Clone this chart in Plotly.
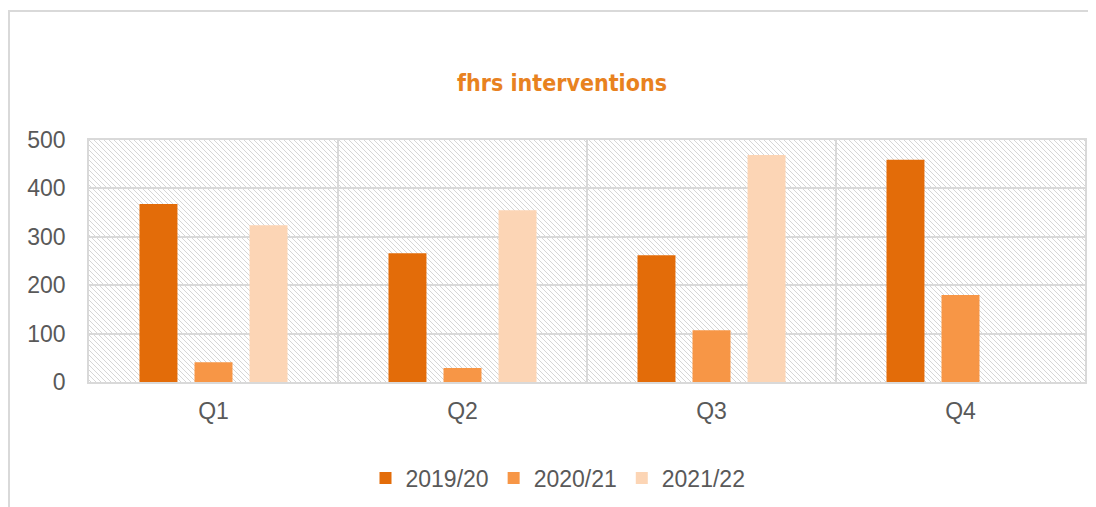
import base64
import plotly.graph_objects as go

quarters = ["Q1", "Q2", "Q3", "Q4"]
series_names = ["2019/20", "2020/21", "2021/22"]
v_2019 = [368, 266, 262, 459]
v_2020 = [41, 29, 107, 180]
v_2021 = [324, 355, 469, None]
colors = ["#E36C09", "#F79646", "#FCD5B5"]

OFF = 8  # browser body margin
W, H = 1096 - OFF, 507 - OFF
L, R, T, B = 89 - OFF, 11, 140 - OFF, 125
pw, ph = W - L - R, H - T - B

svg = f'''<svg xmlns="http://www.w3.org/2000/svg" width="{pw}" height="{ph}">
<defs><pattern id="p" width="5" height="5" patternUnits="userSpaceOnUse">
<path d="M-1,-1 L6,6 M-1,4 L1,6 M4,-1 L6,1" stroke="#D6D6D6" stroke-width="1"/>
</pattern></defs>
<rect width="{pw}" height="{ph}" fill="url(#p)"/></svg>'''
src = "data:image/svg+xml;base64," + base64.b64encode(svg.encode()).decode()

fig = go.Figure()
for name, vals, c in zip(series_names, [v_2019, v_2020, v_2021], colors):
    fig.add_trace(go.Bar(x=quarters, y=vals, name=name, marker_color=c, marker_line_width=0))

fig.update_layout(
    width=W, height=H,
    margin=dict(l=L, r=R, t=T, b=B, autoexpand=False),
    paper_bgcolor="white", plot_bgcolor="white",
    barmode="group", bargap=0.337, bargroupgap=0.31,
    font=dict(family="Liberation Sans, Arial", color="#595959", size=23),
    title=dict(text="<b>fhrs interventions</b>", x=(562 - OFF) / W, xanchor="center",
               y=1 - (83 - OFF) / H, yanchor="middle",
               font=dict(family="DejaVu Sans Condensed, DejaVu Sans", size=23, color="#E8821F")),
    legend=dict(orientation="h", x=(558 - 89) / pw, xanchor="center",
                y=-96 / ph, yanchor="middle",
                font=dict(size=23, color="#595959"), itemwidth=30, traceorder="normal"),
    images=[dict(source=src, xref="paper", yref="paper", x=0, y=1, sizex=1, sizey=1,
                 sizing="stretch", layer="below", xanchor="left", yanchor="top")],
    shapes=[dict(type="rect", xref="paper", yref="paper",
                 x0=(9 - OFF - L) / pw, x1=1.2, y0=-1, y1=(T + ph - (11 - OFF)) / ph,
                 line=dict(color="#D9D9D9", width=2), fillcolor="rgba(0,0,0,0)", layer="below")],
)
fig.update_xaxes(showgrid=True, gridcolor="#D9D9D9", gridwidth=1.5, tickson="boundaries",
                 showline=True, linecolor="#D9D9D9", linewidth=1.5, mirror=True,
                 ticks="", ticklabelstandoff=8, tickfont=dict(size=23, color="#595959"))
fig.update_yaxes(range=[0, 500], dtick=100, showgrid=True, gridcolor="#D9D9D9", gridwidth=1.5,
                 showline=True, linecolor="#D9D9D9", linewidth=1.5, mirror=True, zeroline=False,
                 ticks="", ticklabelstandoff=17, tickfont=dict(size=23, color="#595959"))

fig.write_html("out.html")
